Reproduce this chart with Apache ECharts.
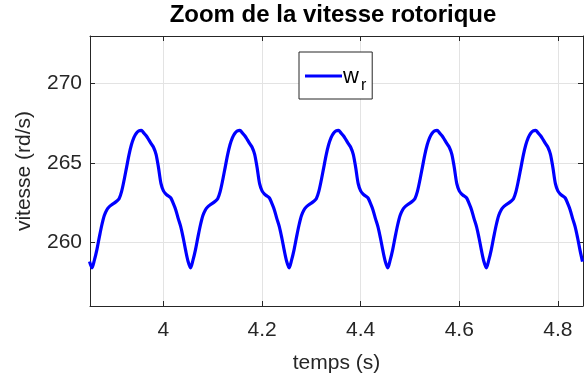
<!DOCTYPE html>
<html>
<head>
<meta charset="utf-8">
<script src="https://cdn.jsdelivr.net/npm/echarts@6/dist/echarts.min.js"></script>
<style>
html,body{margin:0;padding:0;background:#fff;}
#c{width:588px;height:380px;}
</style>
</head>
<body>
<div id="c"></div>
<script>
// Sampled signal: start time and sample step (s)
const tStart = 3.85;
const dt = 0.005;
// Rotor speed samples (rd/s), one per step
const speed = [
258.8,
258.4,258.9,259.55,260.35,261.1,261.7,262.05,262.25,262.38,262.48,262.6,262.75,263.2,263.9,264.7,265.5,266.15,266.6,266.88,267.02,267.06,266.9,266.72,266.48,266.22,265.98,265.55,264.7,263.7,263.25,263.05,262.92,262.8,262.45,262.05,261.5,261.0,260.3,259.5,258.8,
258.4,258.9,259.55,260.35,261.1,261.7,262.05,262.25,262.38,262.48,262.6,262.75,263.2,263.9,264.7,265.5,266.15,266.6,266.88,267.02,267.06,266.9,266.72,266.48,266.22,265.98,265.55,264.7,263.7,263.25,263.05,262.92,262.8,262.45,262.05,261.5,261.0,260.3,259.5,258.8,
258.4,258.9,259.55,260.35,261.1,261.7,262.05,262.25,262.38,262.48,262.6,262.75,263.2,263.9,264.7,265.5,266.15,266.6,266.88,267.02,267.06,266.9,266.72,266.48,266.22,265.98,265.55,264.7,263.7,263.25,263.05,262.92,262.8,262.45,262.05,261.5,261.0,260.3,259.5,258.8,
258.4,258.9,259.55,260.35,261.1,261.7,262.05,262.25,262.38,262.48,262.6,262.75,263.2,263.9,264.7,265.5,266.15,266.6,266.88,267.02,267.06,266.9,266.72,266.48,266.22,265.98,265.55,264.7,263.7,263.25,263.05,262.92,262.8,262.45,262.05,261.5,261.0,260.3,259.5,258.8,
258.4,258.9,259.55,260.35,261.1,261.7,262.05,262.25,262.38,262.48,262.6,262.75,263.2,263.9,264.7,265.5,266.15,266.6,266.88,267.02,267.06,266.9,266.72,266.48,266.22,265.98,265.55,264.7,263.7,263.25,263.05,262.92,262.8,262.45,262.05,261.5,261.0,260.3,259.5,258.8
];
const xTicks = [4, 4.2, 4.4, 4.6, 4.8];
const yTicks = [260, 265, 270];
const titleText = 'Zoom de la vitesse rotorique';
const xName = 'temps (s)';
const yName = 'vitesse (rd/s)';

const data = speed.map((v, i) => [+(tStart + i * dt).toFixed(4), v]);

const axisCol = '#262626';
const gridCol = '#e3e3e3';
const font = 'Liberation Sans, Arial, Helvetica, sans-serif';

const chart = echarts.init(document.getElementById('c'), null, {renderer: 'canvas'});
function mkX(pos, labels) {
  return {
    type: 'value', position: pos, min: 3.851, max: 4.851,
    axisLine: {show: true, onZero: false, lineStyle: {color: axisCol, width: 1}},
    axisTick: {show: true, inside: true, length: 5, customValues: xTicks, lineStyle: {color: axisCol}},
    axisLabel: {show: labels, customValues: xTicks, color: '#262626', fontSize: 21, fontFamily: font, margin: 14,
      formatter: v => String(+v.toFixed(1))},
    splitLine: {show: labels, lineStyle: {color: gridCol, width: 1}},
    name: labels ? xName : '', nameLocation: 'middle', nameGap: 47,
    nameTextStyle: {color: '#262626', fontSize: 21, fontFamily: font}
  };
}
function mkY(pos, labels) {
  return {
    type: 'value', position: pos, min: 256, max: 273,
    axisLine: {show: true, onZero: false, lineStyle: {color: axisCol, width: 1}},
    axisTick: {show: true, inside: true, length: 5, customValues: yTicks, lineStyle: {color: axisCol}},
    axisLabel: {show: labels, customValues: yTicks, color: '#262626', fontSize: 21, fontFamily: font, margin: 8},
    splitLine: {show: labels, lineStyle: {color: gridCol, width: 1}},
    name: labels ? yName : '', nameLocation: 'middle', nameGap: 55,
    nameTextStyle: {color: '#262626', fontSize: 21, fontFamily: font}
  };
}
chart.setOption({
  animation: false,
  backgroundColor: '#fff',
  title: {text: titleText, left: 328, textAlign: 'center', top: -2,
    textStyle: {fontSize: 24, fontWeight: 'bold', color: '#000', fontFamily: font}},
  grid: {left: 90, right: 5, top: 36, bottom: 74, containLabel: false},
  xAxis: [mkX('bottom', true), mkX('top', false)],
  yAxis: [mkY('left', true), mkY('right', false)],
  legend: {
    left: 299, top: 52, orient: 'horizontal',
    backgroundColor: '#fff', borderColor: axisCol, borderWidth: 1,
    padding: [6, 6, 5, 6], itemGap: 0,
    itemWidth: 37, itemHeight: 3,
    icon: 'rect',
    data: [{name: 'wr', icon: 'rect'}],
    formatter: () => '{a|w}{b|r}',
    textStyle: {
      padding: [0,0,0,-4],
      rich: {
        a: {fontSize: 22, color: '#000', fontFamily: font, verticalAlign: 'bottom', lineHeight: 24},
        b: {fontSize: 16, color: '#000', fontFamily: font, padding: [20, 0, 0, 2], lineHeight: 24}
      }
    }
  },
  series: [{
    name: 'wr', type: 'line', data: data, showSymbol: false, symbol: 'none',
    xAxisIndex: 0, yAxisIndex: 0,
    lineStyle: {color: '#0000ff', width: 3.2}, itemStyle: {color: '#0000ff'},
    smooth: 0.3, clip: true
  }]
});
</script>
</body>
</html>
